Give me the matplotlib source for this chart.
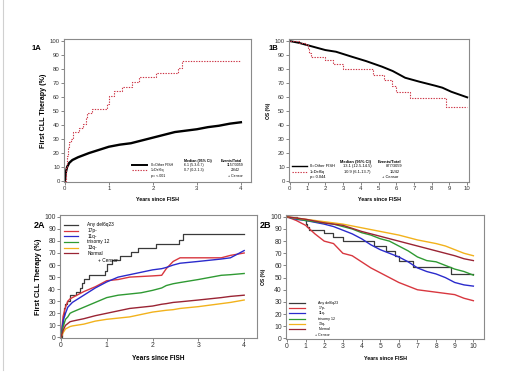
import matplotlib
matplotlib.use('Agg')
import matplotlib.pyplot as plt
from matplotlib.lines import Line2D

plt.rcParams['font.family'] = ['Liberation Sans', 'DejaVu Sans']

# ---------------- data ----------------
# 1A : time to first CLL therapy (%)
t1a_other = [0, 0.02, 0.05, 0.1, 0.17, 0.3, 0.55, 0.75, 1.0, 1.25, 1.5, 1.75, 2.0, 2.25, 2.5, 2.75, 3.0, 3.25, 3.5, 3.75, 4.0]
y1a_other = [0, 6, 10, 13, 15, 17, 20, 22, 24.5, 26, 27, 29, 31, 33, 35, 36, 37, 38.5, 39.5, 41, 42]
t_del6q_ttt = [0, 0.02, 0.04, 0.06, 0.09, 0.13, 0.19, 0.33, 0.42, 0.47, 0.51, 0.62, 0.96, 1.0, 1.11, 1.30, 1.53, 1.68, 2.07, 2.58, 2.66, 4.0]
y_del6q_ttt = [0, 10, 18, 24, 28, 30, 35, 38, 41, 45, 48.3, 51.4, 55, 60.7, 64.5, 67.4, 70.9, 74, 77.4, 81, 85.7, 85.7]

# 1B : overall survival (%)
t1b_other = [0, 0.5, 0.9, 2.0, 2.6, 3.5, 4.3, 5.2, 5.8, 6.5, 7.3, 8.2, 8.6, 9.1, 10]
y1b_other = [100, 98.8, 97.4, 93.6, 92.4, 88.8, 85.7, 81.7, 78.6, 73.8, 71, 68.1, 66.7, 63.8, 59.8]
t_del6q_os = [0, 0.52, 0.9, 1.0, 1.1, 1.18, 2.0, 2.45, 3.0, 4.67, 5.3, 5.77, 6.0, 6.78, 8.78, 10]
y_del6q_os = [100, 98.3, 97, 94, 91.5, 88.8, 86.4, 83.3, 79.8, 75.7, 72.1, 67.9, 63.3, 59.1, 53, 53]

legend_1a = [['0=Other FISH', '6.1 (5.3-6.7)', '1157/3059'],
             ['1=Del6q', '0.7 (0.2-1.3)', '29/42']]
legend_1b = [['0=Other FISH', '13.1 (12.5-14.5)', '877/3059'],
             ['1=Del6q', '10.9 (6.1-13.7)', '16/42']]

# 2A : time to first therapy by FISH group
groups = ['Any del6q23', '17p-', '11q-', 'trisomy 12', '13q-', 'Normal']
colors = ['#3a3a3a', '#d8373f', '#2b2bcc', '#2f9a33', '#f2b21c', '#9a2434']

t2a = [0, 0.05, 0.1, 0.15, 0.2, 0.25, 0.5, 0.75, 1.0, 1.25, 1.5, 1.75, 2.0, 2.2, 2.3, 2.45, 2.6, 3.0, 3.5, 3.7, 4.0]
y2a = {
    '17p-':       [0, 18, 25, 30, 32, 33, 38, 42, 47, 48, 50, 50.5, 51, 51.5, 57, 63, 66, 66, 66, 68, 70],
    '11q-':       [0, 14, 20, 25, 27, 29, 35, 41, 46, 50, 52, 54, 56, 57, 58, 60, 61.5, 63, 65, 66, 72],
    'trisomy 12': [0, 9, 15, 17, 20, 21, 25, 29, 33, 35, 36, 37, 39, 41, 43, 44.5, 45.5, 48, 51.5, 52, 53],
    '13q-':       [0, 4, 7, 8, 9, 9.5, 11, 13.5, 15, 16, 17, 19, 21, 22, 22.5, 23, 24, 25.5, 28, 29, 31],
    'Normal':     [0, 6, 10, 11.5, 13, 13.5, 15.5, 18, 20, 22, 24, 25, 26, 27.5, 28, 29, 29.5, 31, 33, 34, 35],
}

# 2B : overall survival by FISH group
t2b = [0, 0.5, 1, 1.5, 2, 2.5, 3, 3.5, 4, 4.5, 5, 5.5, 6, 6.5, 7, 7.5, 8, 8.5, 9, 9.5, 10]
y2b = {
    '17p-':       [100, 97, 93, 86, 80, 78, 70, 68, 63, 58, 54, 50, 46, 43, 40, 39, 38, 37, 36, 33, 31],
    '11q-':       [100, 98, 97, 95.5, 94, 92, 89, 86, 82, 77, 73, 70, 67, 63, 58, 55, 53, 50, 46, 44, 43],
    'trisomy 12': [100, 98.5, 97, 96, 95, 94, 92, 90, 87, 85, 82, 80, 76, 72, 67, 64, 63, 60, 57, 55, 52],
    '13q-':       [100, 99, 98, 97, 96, 95, 94, 92.5, 91, 89.5, 88, 86.5, 85, 83, 81, 79.5, 78, 76, 73, 70, 68],
    'Normal':     [100, 99, 98, 96.5, 95, 94, 93, 90.5, 88, 86, 84, 82, 80, 78, 76, 74, 72, 70, 68, 65.5, 64],
}

W, H = 520, 392
fig = plt.figure(figsize=(W / 100, H / 100), dpi=100)
fig.add_artist(Line2D([2.5 / W, 2.5 / W], [1 - 370 / H, 1], color='#d0d0d0', lw=0.8))

RED = '#cc3344'
DOT = (0, (1.2, 1.2))


def make_ax(left, top, right, bottom, tick_fs=4.3):
    ax = fig.add_axes([left / W, 1 - bottom / H, (right - left) / W, (bottom - top) / H])
    for s in ax.spines.values():
        s.set_color('#8a8a8a')
        s.set_linewidth(0.8)
    ax.tick_params(labelsize=tick_fs, length=2, width=0.5, color='#555555', pad=1, labelcolor='#333333')
    ax.set_yticks(range(0, 101, 10))
    return ax


def txt(ax, x, y, s, size, ha='left', bold=False):
    ax.text(x, y, s, transform=ax.transAxes, fontsize=size, ha=ha, va='center',
            fontweight='bold' if bold else 'normal')


# ---------------- 1A ----------------
ax = make_ax(64, 39, 251, 182)
ax.plot(t1a_other, y1a_other, color='black', lw=1.7)
ax.plot(t_del6q_ttt, y_del6q_ttt, color=RED, lw=0.8, ls=DOT, drawstyle='steps-post')
ax.set_xlim(-0.02, 4.23)
ax.set_ylim(-0.7, 101.5)
ax.set_xticks(range(0, 5))
ax.set_ylabel('First CLL Therapy (%)', fontsize=5.1, fontweight='bold', labelpad=2)
ax.set_xlabel('Years since FISH', fontsize=3.8, fontweight='bold', labelpad=4)
fig.text(36 / W, 1 - 49 / H, '1A', fontsize=5.5, fontweight='bold', va='center', ha='center')

fa = 2.6
txt(ax, 0.714, 0.149, 'Median (95% CI)', fa, ha='center', bold=True)
txt(ax, 0.896, 0.149, 'Events/Total', fa, ha='center', bold=True)
for i, (row, y) in enumerate(zip(legend_1a, [0.121, 0.084])):
    if i == 0:
        ax.plot([0.364, 0.444], [y, y], transform=ax.transAxes, color='black', lw=1.4)
    else:
        ax.plot([0.364, 0.444], [y, y], transform=ax.transAxes, color=RED, lw=0.8, ls=DOT)
    txt(ax, 0.465, y, row[0], fa)
    txt(ax, 0.695, y, row[1], fa, ha='center')
    txt(ax, 0.915, y, row[2], fa, ha='center')
txt(ax, 0.465, 0.044, 'p= <.001', fa)
txt(ax, 0.915, 0.044, '+ Censor', fa, ha='center')

# ---------------- 1B ----------------
ax = make_ax(289, 39, 469, 182)
ax.plot(t1b_other, y1b_other, color='black', lw=1.4)
ax.plot(t_del6q_os, y_del6q_os, color=RED, lw=0.8, ls=DOT, drawstyle='steps-post')
ax.set_xlim(-0.05, 10.1)
ax.set_ylim(-0.7, 101.5)
ax.set_xticks(range(0, 11))
ax.set_ylabel('OS (%)', fontsize=3.6, fontweight='bold', labelpad=3)
ax.set_xlabel('Years since FISH', fontsize=3.8, fontweight='bold', labelpad=4)
fig.text(273 / W, 1 - 49 / H, '1B', fontsize=5.5, fontweight='bold', va='center', ha='center')

fb = 2.9
txt(ax, 0.367, 0.142, 'Median (95% CI)', fb, ha='center', bold=True)
txt(ax, 0.56, 0.142, 'Events/Total', fb, ha='center', bold=True)
for i, (row, y) in enumerate(zip(legend_1b, [0.114, 0.072])):
    if i == 0:
        ax.plot([0.017, 0.1], [y, y], transform=ax.transAxes, color='black', lw=1.0)
    else:
        ax.plot([0.017, 0.1], [y, y], transform=ax.transAxes, color=RED, lw=0.8, ls=DOT)
    txt(ax, 0.117, y, row[0], fb)
    txt(ax, 0.378, y, row[1], fb, ha='center')
    txt(ax, 0.585, y, row[2], fb, ha='center')
txt(ax, 0.117, 0.033, 'p= 0.044', fb)
txt(ax, 0.56, 0.033, '+ Censor', fb, ha='center')

# ---------------- 2A ----------------
ax = make_ax(60, 215, 257, 338, tick_fs=4.9)
ax.plot(t_del6q_ttt, y_del6q_ttt, color=colors[0], lw=0.9, drawstyle='steps-post')
for g, c in zip(groups[1:], colors[1:]):
    ax.plot(t2a, y2a[g], color=c, lw=1.0)
ax.set_xlim(-0.02, 4.28)
ax.set_ylim(-0.5, 101.5)
ax.set_xticks(range(0, 5))
ax.set_ylabel('First CLL Therapy (%)', fontsize=5.3, fontweight='bold', labelpad=2)
ax.set_xlabel('Years since FISH', fontsize=4.7, fontweight='bold', labelpad=4)
fig.text(40 / W, 1 - 225 / H, '2A', fontsize=6.5, fontweight='bold', va='center', ha='center')
for i, (g, c) in enumerate(zip(groups, colors)):
    y = 0.919 - i * 0.046
    ax.plot([0.022, 0.093], [y, y], transform=ax.transAxes, color=c, lw=0.9)
    txt(ax, 0.139, y, g, 3.4)
txt(ax, 0.194, 0.634, '+ Censor', 3.4)

# ---------------- 2B ----------------
ax = make_ax(286, 215, 484, 339, tick_fs=4.9)
ax.plot(t_del6q_os, y_del6q_os, color=colors[0], lw=0.9, drawstyle='steps-post')
for g, c in zip(groups[1:], colors[1:]):
    ax.plot(t2b, y2b[g], color=c, lw=1.0)
ax.set_xlim(-0.05, 10.57)
ax.set_ylim(-0.5, 101.5)
ax.set_xticks(range(0, 11))
ax.set_ylabel('OS (%)', fontsize=3.6, fontweight='bold', labelpad=3)
ax.set_xlabel('Years since FISH', fontsize=3.8, fontweight='bold', labelpad=4)
fig.text(265 / W, 1 - 226 / H, '2B', fontsize=6.5, fontweight='bold', va='center', ha='center')
for i, (g, c) in enumerate(zip(groups, colors)):
    y = 0.293 - i * 0.043
    ax.plot([0.017, 0.096], [y, y], transform=ax.transAxes, color=c, lw=0.9)
    txt(ax, 0.163, y, g, 2.6)
txt(ax, 0.146, 0.035, '+ Censor', 2.6)

fig.savefig('out.png', dpi=100)
